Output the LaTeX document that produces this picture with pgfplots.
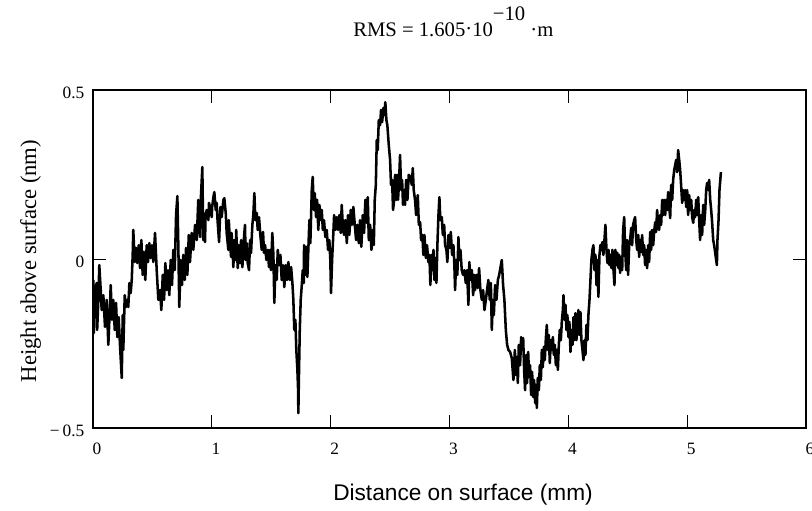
\documentclass[border=0pt]{standalone}
\usepackage{pgfplots}
\pgfplotsset{compat=1.18}
\usepackage{fontspec}
\setmainfont{Liberation Serif}
\newfontfamily\arialfont{Liberation Sans}
\begin{document}
\begin{tikzpicture}
\begin{axis}[
  at={(69.75pt,61.5pt)}, anchor=south west,
  scale only axis, width=534.75pt, height=253.5pt,
  xmin=0, xmax=6, ymin=-0.5, ymax=0.5,
  xtick={0,1,2,3,4,5,6}, xticklabels={0,1,2,3,4,5,6},
  ytick={-0.5,0,0.5}, yticklabels={{−\,0.5},0,0.5},
  xtick pos=both, ytick pos=both, tick align=inside,
  major tick length=10pt,
  tick style={line width=0.7pt, black},
  axis line style={line width=1.1pt},
  xticklabel style={font=\fontsize{13}{14}\selectfont, yshift=-8pt, xshift=3pt},
  yticklabel style={font=\fontsize{13}{14}\selectfont, xshift=-3pt, yshift=-2pt},
  clip=true,
]
\addplot[black, line width=1.9pt, line join=round] coordinates {
(0.003,-0.062)(0.007,-0.219)(0.017,-0.092)(0.031,-0.071)(0.035,-0.210)(0.045,-0.121)(0.053,-0.018)(0.065,-0.092)(0.073,-0.151)(0.087,-0.107)(0.101,-0.201)(0.115,-0.121)(0.129,-0.254)(0.143,-0.136)(0.149,-0.077)(0.160,-0.180)(0.171,-0.121)(0.183,-0.210)(0.194,-0.130)(0.205,-0.231)(0.216,-0.172)(0.227,-0.254)(0.242,-0.352)(0.250,-0.166)(0.255,-0.269)(0.267,-0.107)(0.278,-0.142)(0.289,-0.121)(0.297,-0.142)(0.306,-0.071)(0.317,-0.101)(0.326,-0.062)(0.334,0.012)(0.339,0.086)(0.351,-0.009)(0.362,0.033)(0.373,-0.012)(0.385,0.041)(0.396,-0.027)(0.407,0.056)(0.418,-0.047)(0.429,0.021)(0.440,-0.062)(0.452,0.041)(0.463,-0.009)(0.474,0.047)(0.486,0.003)(0.497,0.041)(0.508,-0.009)(0.522,0.077)(0.536,-0.033)(0.550,-0.121)(0.564,-0.092)(0.575,-0.151)(0.587,-0.047)(0.598,-0.121)(0.609,-0.012)(0.620,-0.092)(0.631,-0.033)(0.642,-0.107)(0.654,-0.003)(0.665,-0.077)(0.676,0.027)(0.688,-0.033)(0.699,0.130)(0.710,0.186)(0.718,0.041)(0.726,-0.142)(0.738,-0.003)(0.749,-0.077)(0.760,0.012)(0.772,-0.062)(0.783,0.033)(0.794,-0.047)(0.806,0.071)(0.816,-0.009)(0.831,0.077)(0.844,0.027)(0.859,0.101)(0.873,0.056)(0.886,0.175)
(0.901,0.065)(0.907,0.175)(0.915,0.234)(0.920,0.272)(0.928,0.056)(0.933,0.124)(0.943,0.050)(0.947,0.133)(0.957,0.145)(0.971,0.115)(0.976,0.166)(0.985,0.154)(0.999,0.124)(1.003,0.154)(1.013,0.183)(1.021,0.198)(1.033,0.145)(1.041,0.166)(1.048,0.115)(1.061,0.050)(1.072,0.154)(1.083,0.124)(1.097,0.175)(1.105,0.180)(1.117,0.136)(1.125,0.077)(1.139,0.027)(1.143,0.115)(1.151,0.056)(1.162,0.006)(1.166,0.077)(1.173,0.041)(1.181,-0.024)(1.189,0.056)(1.201,-0.003)(1.205,0.086)(1.218,-0.027)(1.226,0.041)(1.237,-0.012)(1.246,0.056)(1.257,-0.024)(1.269,0.056)(1.279,0.101)(1.285,-0.003)(1.294,0.047)(1.302,-0.012)(1.313,-0.033)(1.322,0.056)(1.330,0.018)(1.341,0.101)(1.349,0.130)(1.358,0.195)(1.366,0.115)(1.378,0.136)(1.386,0.086)(1.397,0.124)(1.408,0.071)(1.420,0.027)(1.431,0.080)(1.439,0.018)(1.448,0.041)(1.459,-0.003)(1.471,0.027)(1.481,-0.024)(1.490,0.027)(1.498,-0.033)(1.509,0.077)(1.518,0.012)(1.526,-0.130)(1.535,-0.018)(1.546,-0.062)(1.555,0.027)(1.566,-0.018)(1.577,0.012)(1.588,-0.062)(1.599,-0.018)(1.610,-0.083)(1.622,-0.018)(1.633,-0.062)(1.644,-0.009)(1.656,-0.062)(1.667,-0.024)(1.678,-0.071)(1.686,-0.121)(1.694,-0.210)(1.703,-0.180)(1.711,-0.269)(1.720,-0.328)(1.726,-0.388)(1.728,-0.456)(1.734,-0.328)(1.740,-0.210)(1.748,-0.121)(1.757,-0.077)(1.765,-0.033)
(1.774,-0.071)(1.776,0.041)(1.785,-0.047)(1.793,0.036)(1.804,-0.053)(1.812,0.027)(1.821,0.115)(1.829,0.047)(1.841,0.204)(1.849,0.243)(1.858,0.145)(1.866,0.195)(1.877,0.124)(1.886,0.175)(1.896,0.086)(1.905,0.160)(1.917,0.115)(1.925,0.145)(1.934,0.086)(1.944,0.115)(1.955,0.065)(1.967,0.086)(1.978,0.027)(1.989,0.056)(1.997,-0.003)(2.003,-0.101)(2.012,-0.003)(2.020,0.056)(2.029,0.130)(2.040,0.086)(2.051,0.124)(2.062,0.086)(2.073,0.130)(2.085,0.077)(2.093,0.160)(2.102,0.101)(2.113,0.071)(2.124,0.115)(2.136,0.047)(2.146,0.130)(2.157,0.071)(2.169,0.145)(2.180,0.101)(2.191,0.154)(2.203,0.101)(2.214,0.056)(2.225,0.101)(2.237,0.047)(2.247,0.115)(2.258,0.036)(2.270,0.130)(2.281,0.077)(2.292,0.175)(2.304,0.107)(2.312,0.183)(2.321,0.056)(2.332,0.101)(2.343,0.027)(2.354,0.086)(2.363,0.041)(2.371,0.175)(2.380,0.219)(2.388,0.352)(2.396,0.322)(2.405,0.411)(2.416,0.396)(2.424,0.441)(2.433,0.405)(2.444,0.447)(2.452,0.426)(2.460,0.464)(2.469,0.411)(2.477,0.396)(2.489,0.337)(2.500,0.293)(2.508,0.219)(2.517,0.234)(2.525,0.145)(2.534,0.175)(2.542,0.249)(2.551,0.175)(2.559,0.249)(2.567,0.175)(2.576,0.234)(2.584,0.308)(2.593,0.204)(2.601,0.234)(2.609,0.160)(2.618,0.204)(2.626,0.160)(2.635,0.234)(2.646,0.175)(2.657,0.249)
(2.671,0.243)(2.683,0.219)(2.691,0.269)(2.699,0.204)(2.710,0.175)(2.719,0.130)(2.727,0.160)(2.733,0.189)(2.742,0.101)(2.753,0.109)(2.761,0.056)(2.772,0.071)(2.780,0.012)(2.789,0.071)(2.801,0.003)(2.811,0.041)(2.822,-0.009)(2.831,0.012)(2.839,-0.077)(2.848,0.012)(2.856,-0.033)(2.865,0.027)(2.873,-0.062)(2.881,0.003)(2.890,-0.071)(2.898,0.041)(2.907,0.130)(2.915,0.183)(2.923,0.115)(2.935,0.124)(2.944,0.071)(2.955,0.101)(2.963,0.041)(2.974,0.027)(2.982,-0.009)(2.991,0.071)(3.003,0.033)(3.011,0.080)(3.022,0.012)(3.033,0.041)(3.041,-0.018)(3.047,-0.092)(3.056,-0.003)(3.066,-0.047)(3.075,0.065)(3.083,-0.003)(3.092,0.027)(3.103,-0.033)(3.114,-0.047)(3.125,-0.033)(3.137,-0.071)(3.148,-0.033)(3.159,-0.136)(3.167,-0.009)(3.176,-0.062)(3.188,-0.033)(3.199,-0.107)(3.207,-0.047)(3.215,-0.092)(3.226,-0.047)(3.238,-0.086)(3.249,-0.027)(3.260,-0.092)(3.272,-0.121)(3.283,-0.092)(3.294,-0.151)(3.306,-0.121)(3.316,-0.092)(3.327,-0.062)(3.339,-0.121)(3.348,-0.071)(3.356,-0.210)(3.365,-0.121)(3.373,-0.166)(3.384,-0.077)(3.395,-0.121)(3.407,-0.062)(3.418,-0.047)(3.428,-0.027)(3.440,-0.003)(3.451,-0.077)(3.462,-0.121)(3.474,-0.210)(3.485,-0.254)(3.496,-0.269)(3.510,-0.275)(3.524,-0.293)(3.538,-0.358)
(3.550,-0.269)(3.558,-0.343)(3.566,-0.290)(3.575,-0.367)(3.583,-0.254)(3.594,-0.314)(3.603,-0.231)(3.611,-0.269)(3.620,-0.234)(3.628,-0.328)(3.636,-0.388)(3.645,-0.284)(3.653,-0.367)(3.662,-0.275)(3.670,-0.349)(3.678,-0.314)(3.687,-0.402)(3.695,-0.334)(3.704,-0.408)(3.712,-0.358)(3.721,-0.426)(3.729,-0.373)(3.735,-0.441)(3.743,-0.352)(3.752,-0.388)(3.760,-0.314)(3.769,-0.358)(3.777,-0.269)(3.785,-0.320)(3.794,-0.260)(3.802,-0.299)(3.811,-0.234)(3.819,-0.195)(3.827,-0.269)(3.836,-0.225)(3.844,-0.308)(3.853,-0.240)(3.861,-0.269)(3.870,-0.231)(3.878,-0.284)(3.886,-0.254)(3.895,-0.314)(3.903,-0.269)(3.912,-0.328)(3.920,-0.254)(3.928,-0.210)(3.937,-0.240)(3.945,-0.186)(3.954,-0.151)(3.959,-0.107)(3.967,-0.180)(3.976,-0.136)(3.984,-0.210)(3.992,-0.166)(4.001,-0.231)(4.009,-0.186)(4.018,-0.275)(4.026,-0.210)(4.035,-0.254)(4.043,-0.172)(4.051,-0.240)(4.060,-0.160)(4.068,-0.240)(4.077,-0.195)(4.085,-0.151)(4.093,-0.225)(4.102,-0.157)(4.110,-0.240)(4.119,-0.269)(4.127,-0.299)(4.136,-0.240)(4.144,-0.284)(4.152,-0.195)(4.161,-0.240)(4.169,-0.166)(4.178,-0.121)(4.186,-0.062)(4.194,-0.003)(4.203,0.027)(4.211,0.041)(4.220,-0.033)(4.228,0.012)(4.237,-0.077)(4.245,-0.003)(4.253,-0.112)(4.262,0.012)(4.270,0.041)(4.279,0.027)(4.287,0.050)(4.295,0.012)(4.304,0.056)(4.312,0.101)(4.321,0.027)(4.329,-0.012)(4.338,0.027)(4.346,-0.018)(4.354,0.012)(4.363,-0.027)(4.371,0.027)(4.380,-0.033)(4.388,-0.077)(4.396,0.027)(4.405,-0.018)(4.413,0.018)(4.422,-0.027)
(4.428,0.012)(4.436,-0.041)(4.444,0.006)(4.453,-0.033)(4.461,0.086)(4.470,0.124)(4.478,0.027)(4.487,-0.033)(4.495,0.056)(4.503,-0.047)(4.512,0.041)(4.520,0.056)(4.529,0.092)(4.537,0.041)(4.545,0.101)(4.554,0.115)(4.562,0.124)(4.571,0.056)(4.579,0.027)(4.588,0.071)(4.596,0.006)(4.604,0.056)(4.613,0.021)(4.621,0.071)(4.630,0.012)(4.638,0.041)(4.646,-0.018)(4.655,0.027)(4.663,-0.027)(4.672,0.041)(4.680,-0.009)(4.689,0.080)(4.697,0.027)(4.705,0.086)(4.714,0.041)(4.722,0.080)(4.731,0.109)(4.739,0.080)(4.747,0.145)(4.756,0.101)(4.764,0.086)(4.773,0.130)(4.781,0.101)(4.790,0.175)(4.798,0.130)(4.806,0.175)(4.815,0.130)(4.823,0.175)(4.832,0.145)(4.840,0.198)(4.848,0.160)(4.857,0.121)(4.865,0.219)(4.874,0.175)(4.882,0.234)(4.891,0.263)(4.899,0.278)(4.907,0.293)(4.916,0.257)(4.924,0.322)(4.933,0.293)(4.941,0.263)(4.949,0.219)(4.958,0.166)(4.966,0.204)(4.975,0.175)(4.983,0.204)(4.992,0.154)(5.000,0.204)(5.008,0.130)(5.017,0.189)(5.025,0.145)(5.034,0.175)(5.042,0.124)(5.051,0.107)(5.059,0.145)(5.067,0.124)(5.076,0.175)(5.084,0.130)(5.093,0.183)(5.101,0.115)(5.109,0.056)(5.118,0.130)(5.126,0.071)(5.135,0.160)(5.143,0.101)(5.152,0.145)(5.160,0.204)(5.168,0.225)(5.177,0.204)(5.185,0.234)(5.194,0.175)(5.202,0.145)(5.210,0.109)(5.219,0.056)(5.227,0.041)(5.236,0.018)(5.244,-0.003)(5.250,-0.018)(5.255,0.056)(5.264,0.115)(5.272,0.204)(5.284,0.257)
};
\end{axis}
\node[anchor=base, font=\fontsize{15.5}{17}\selectfont] at (340pt,354.75pt)
  {RMS = 1.605\raisebox{0.05em}{·}10\raisebox{0.8em}{−10}\hspace{0.25em}·m};
\node[anchor=base, rotate=90, font=\fontsize{17}{19}\selectfont] at (27pt,186.75pt)
  {Height above surface (nm)};
\node[anchor=base, font=\arialfont\fontsize{17}{19}\selectfont] at (347.25pt,7.5pt)
  {Distance on surface (mm)};
\pgfresetboundingbox
\useasboundingbox (0,0) rectangle (609pt,382.5pt);
\end{tikzpicture}
\end{document}
